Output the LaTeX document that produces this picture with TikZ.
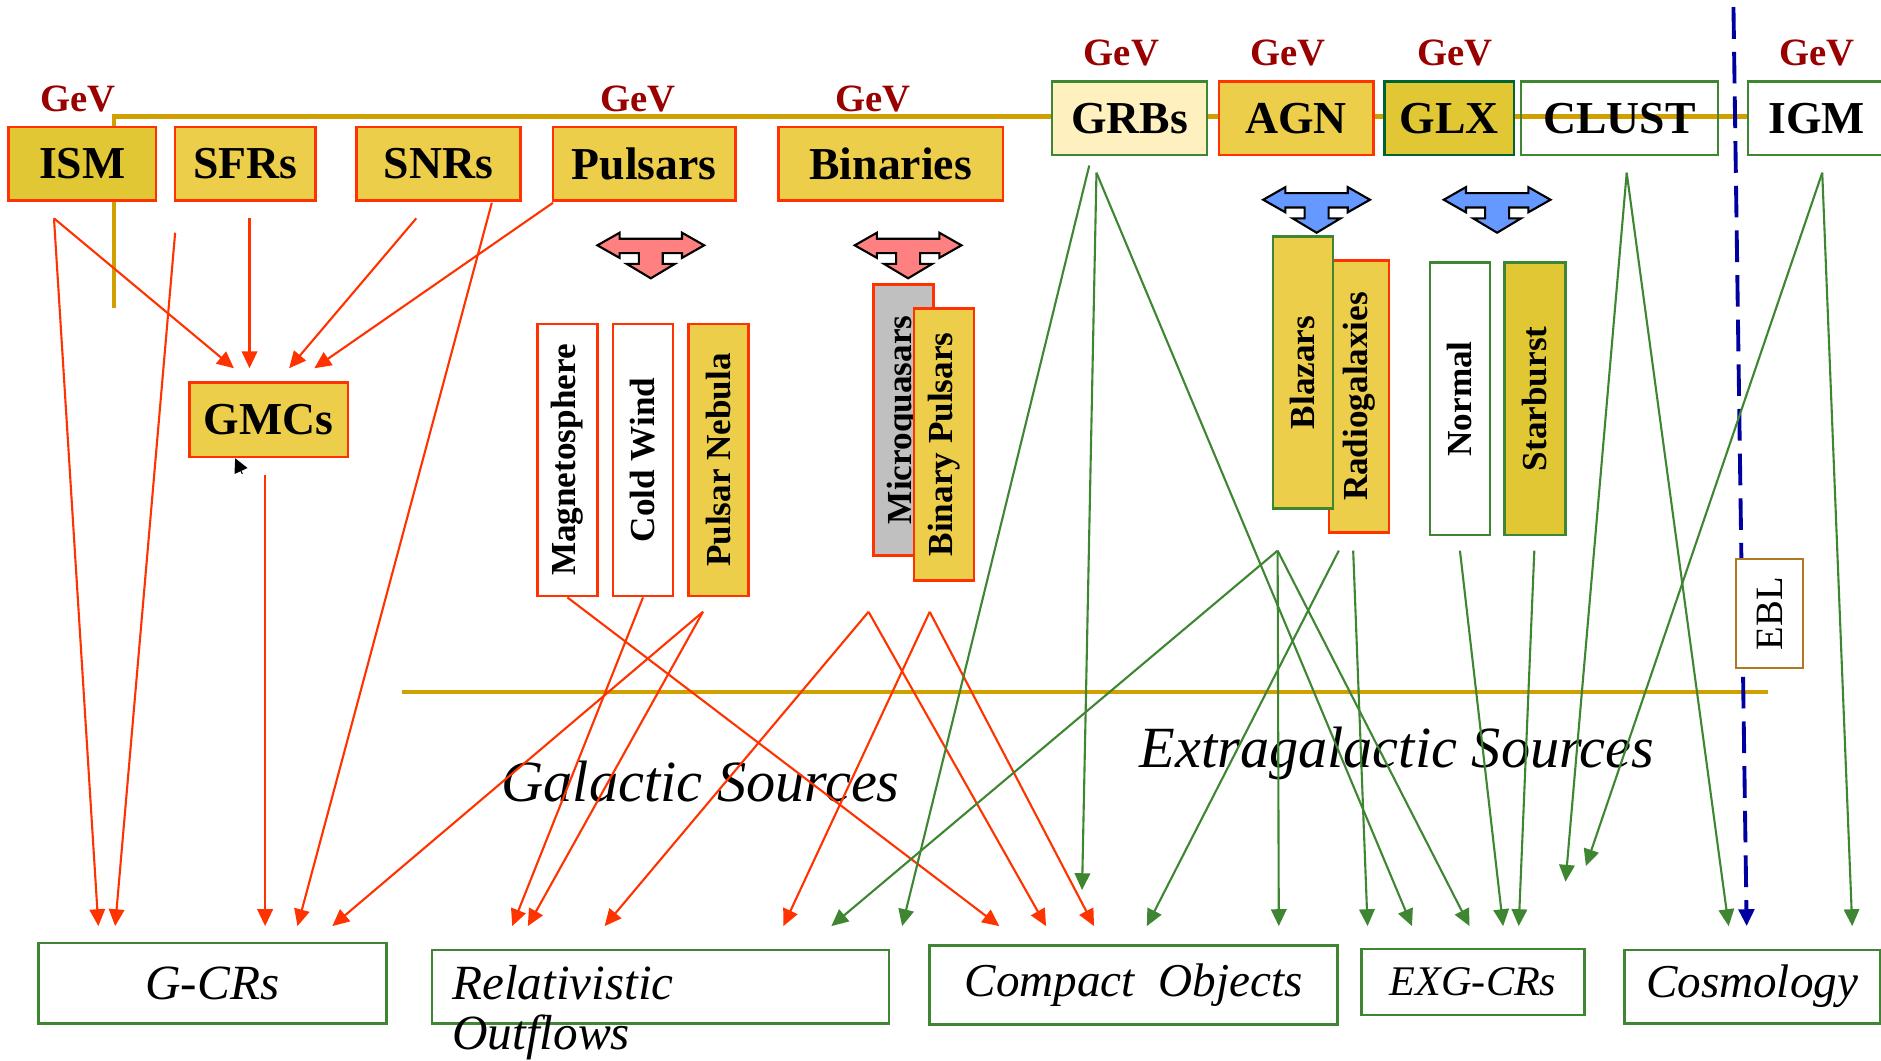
\documentclass[tikz,border=0pt]{standalone}
\usepackage{fontspec}
\setmainfont{Liberation Serif}
\usetikzlibrary{arrows.meta,positioning}
\definecolor{goldA}{RGB}{236,206,75}
\definecolor{goldB}{RGB}{225,199,52}
\definecolor{goldLn}{RGB}{207,160,0}
\definecolor{redLn}{RGB}{255,51,0}
\definecolor{grnLn}{RGB}{62,134,50}
\definecolor{dkGrn}{RGB}{0,100,50}
\definecolor{paleY}{RGB}{255,240,192}
\definecolor{gevRed}{RGB}{153,0,0}
\definecolor{dashBlue}{RGB}{0,0,160}
\definecolor{pinkT}{RGB}{255,128,128}
\definecolor{blueT}{RGB}{102,153,255}
\definecolor{mqGray}{RGB}{192,192,192}
\definecolor{eblBrn}{RGB}{176,120,32}
\tikzset{
 srcnode/.style={rectangle,line width=0.7pt,inner sep=0pt,font=\fontsize{13}{15}\selectfont\bfseries},
 stripnode/.style={rectangle,rotate=90,line width=0.7pt,inner sep=0pt,font=\fontsize{10}{11}\selectfont\bfseries},
 tgtnode/.style={rectangle,draw=grnLn,line width=0.7pt,inner sep=0pt,font=\fontsize{14}{16}\selectfont\itshape},
 gev/.style={text=gevRed,inner sep=0pt,font=\fontsize{11}{12}\selectfont\bfseries},
 region/.style={inner sep=0pt,font=\fontsize{16.6}{20}\selectfont\itshape},
 goldline/.style={draw=goldLn,line width=1.3pt},
 redarr/.style={->,draw=redLn,line width=0.6pt},
 grnarr/.style={->,draw=grnLn,line width=0.6pt},
 tarr/.style={draw=black,line width=0.6pt,line join=miter}
}
\newcommand{\srcbox}[7][goldA]{\node[srcnode,fill=#1,draw=#2,minimum width=#5*0.012cm,minimum height=#6*0.012cm](#3) at (#4){#7};}
\newcommand{\vstrip}[7][goldA]{\node[stripnode,fill=#1,draw=#2,minimum width=#5*0.012cm,minimum height=#6*0.012cm](#3) at (#4){#7};}
\newcommand{\tgtbox}[6][]{\node[tgtnode,#1,minimum width=#4*0.012cm,minimum height=#5*0.012cm](#2) at (#3){#6};}
\newcommand{\tarrow}[2]{\draw[tarr,fill=#2,shift={(#1)}] (-44.5,10.5) -- (-26,0) -- (-26,5) -- (26,5) -- (26,0) -- (44.5,10.5) -- (26,21) -- (26,17) -- (10,17) -- (10,26) -- (20,26) -- (0,38) -- (-20,26) -- (-10,26) -- (-10,17) -- (-26,17) -- (-26,21) -- cycle;}

\begin{document}
\begin{tikzpicture}[x=0.012cm,y=-0.012cm,>={Triangle[length=4.8pt,width=4.4pt]}]
\useasboundingbox (0,0) rectangle (1568,884);

\coordinate (gl0) at (95,257);
\coordinate (gl1) at (95,97);
\coordinate (gl2) at (1457,97);
\coordinate (gm0) at (335,577);
\coordinate (gm1) at (1474,577);
\draw[goldline] (gl0) -- (gl1) -- (gl2);
\draw[goldline] (gm0) -- (gm1);

\coordinate (ebTop) at (1445,6);
\coordinate (cosB) at (1456,772);
\draw[->,draw=dashBlue,line width=1.1pt,dash pattern=on 9pt off 3.7pt] (ebTop) -- (cosB);

\srcbox[goldB]{redLn}{ISM}{68.5,136.5}{123}{61}{ISM}
\srcbox{redLn}{SFR}{204.5,136.5}{117}{61}{SFRs}
\srcbox{redLn}{SNR}{365.5,136.5}{137}{61}{SNRs}
\srcbox{redLn}{PSR}{537,136.5}{152}{61}{Pulsars}
\srcbox{redLn}{BIN}{742.5,136.5}{187}{61}{Binaries}
\srcbox[paleY]{grnLn}{GRB}{941.5,98.5}{129}{61}{GRBs}
\srcbox{redLn}{AGN}{1080.5,98.5}{129}{61}{AGN}
\srcbox[goldB]{dkGrn}{GLX}{1208,98.5}{108}{61}{GLX}
\srcbox[none]{grnLn}{CLU}{1350,98.5}{164}{61}{CLUST}
\srcbox[white]{grnLn}{IGM}{1514.5,98.5}{115}{61}{IGM}
\srcbox{redLn}{GMC}{224,350}{132}{62}{GMCs}

\node[gev,above=0.13cm of ISM,xshift=-0.04cm](gevISM){GeV};
\node[gev,above=0.13cm of PSR,xshift=-0.06cm](gevPSR){GeV};
\node[gev,above=0.13cm of BIN,xshift=-0.18cm](gevBIN){GeV};
\node[gev,above=0.14cm of GRB,xshift=-0.08cm](gevGRB){GeV};
\node[gev,above=0.14cm of AGN,xshift=-0.08cm](gevAGN){GeV};
\node[gev,above=0.14cm of GLX,xshift=0.06cm](gevGLX){GeV};
\node[gev,above=0.14cm of IGM](gevIGM){GeV};

\tarrow{542.5,194}{pinkT}
\tarrow{757,194}{pinkT}
\tarrow{1097.5,156}{blueT}
\tarrow{1248,156}{blueT}

\vstrip[white]{redLn}{MAG}{473,383.5}{227}{50}{Magnetosphere}
\vstrip[white]{redLn}{CWD}{536,383.5}{227}{50}{Cold Wind\hspace{0.38cm}}
\vstrip{redLn}{PWN}{599,383.5}{227}{50}{Pulsar Nebula\hspace{0.24cm}}
\vstrip[mqGray]{redLn}{MQS}{753,350}{226}{50}{Microquasars\hspace{0.34cm}}
\vstrip{redLn}{BPS}{787,370.5}{227}{50}{Binary Pulsars\hspace{0.2cm}}
\vstrip{redLn}{RGX}{1133,330.5}{227}{50}{Radiogalaxies\hspace{0.34cm}}
\vstrip{grnLn}{BLZ}{1086,310.5}{227}{50}{Blazars\hspace{0.31cm}}
\vstrip[white]{grnLn}{NRM}{1217,332.5}{227}{50}{Normal\hspace{0.24cm}}
\vstrip[goldB]{grnLn}{SBT}{1279.5,332.5}{227}{51}{Starburst\hspace{0.14cm}}
\node[rectangle,rotate=90,draw=eblBrn,fill=white,line width=0.7pt,inner sep=0pt,minimum width=91*0.012cm,minimum height=56*0.012cm,font=\fontsize{11}{12}\selectfont](EBL) at (1475,511.5){EBL};

\tgtbox{GCR}{177,819.5}{290}{67}{G-CRs}
\tgtbox{REL}{550.5,822.5}{381}{61}{}
\node[tgtnode,draw=none,anchor=base west](RELa) at (376,833){Relativistic};
\node[tgtnode,draw=none,anchor=base west](RELb) at (376,875){Outflows};
\tgtbox[font=\fontsize{13.4}{15}\selectfont\itshape]{CO}{945,821}{340}{66}{Compact~ Objects}
\tgtbox[font=\fontsize{12}{13}\selectfont\itshape]{EXG}{1228,818.5}{186}{55}{EXG-CRs\hspace{0.24cm}}
\tgtbox[font=\fontsize{13.4}{15}\selectfont\itshape]{COS}{1460.5,822.5}{213}{61}{Cosmology}

\node[region,anchor=base](galT) at (584,668){Galactic Sources};
\node[region,anchor=base](exgT) at (1164.5,640){Extragalactic Sources};

\foreach \n/\p in {ismA/{45,182},sfrA/{146,194},sfrB/{208,182},snrA/{347,182},snrB/{410,169},psrA/{461,169},gmcA/{221,396},pwnA/{586,510},mqsA/{724,510},bpsA/{775,510},
 gmc1/{195,307},gmc2/{208,307},gmc3/{241,307},gmc4/{262,307},
 gcr1/{82,772},gcr2/{96,772},gcr3/{221,772},gcr4/{248,772},gcr5/{277,772},
 rel1/{427,772},rel2/{440,772},rel3/{504,772},rel4/{653,772},rel5/{693,772},rel6/{752,772},
 co1/{833,772},co2/{872,772},co3/{912,772},co4/{902,742},co5/{956,772},co6/{1066,772},
 exg1/{1140,772},exg2/{1177,772},exg3/{1225,772},exg4/{1253,772},exg5/{1266,772},
 cl1/{1305,735},ig1/{1322,722},cos1/{1441,772},cos2/{1544,772},
 grbA/{908,138},grbB/{914,144},agnA/{1065,459},agnB/{1116,459},agnC/{1128,459},glxA/{1217,459},glxB/{1279,459},cluA/{1356,144},igmA/{1519,144}}
 \coordinate (\n) at (\p);

\foreach \s/\t in {ismA/gcr1,ismA/gmc1,sfrA/gcr2,sfrB/gmc2,snrA/gmc3,snrB/gcr4,psrA/gmc4,gmcA/gcr3,MAG.west/co1,CWD.west/rel1,pwnA/gcr5,pwnA/rel2,mqsA/rel3,mqsA/co2,bpsA/rel4,bpsA/co3}
 \draw[redarr] (\s) -- (\t);
\foreach \s/\t in {grbA/rel6,grbB/co4,grbB/exg2,agnA/rel5,agnA/co6,agnA/exg3,agnB/co5,agnC/exg1,glxA/exg4,glxB/exg5,cluA/cl1,cluA/cos1,igmA/ig1,igmA/cos2}
 \draw[grnarr] (\s) -- (\t);

\coordinate (blkA) at (202,395);
\coordinate (blkB) at (196,382);
\draw[-{Triangle[length=4pt,width=4pt]},line width=0.3pt] (blkA) -- (blkB);
\end{tikzpicture}
\end{document}
